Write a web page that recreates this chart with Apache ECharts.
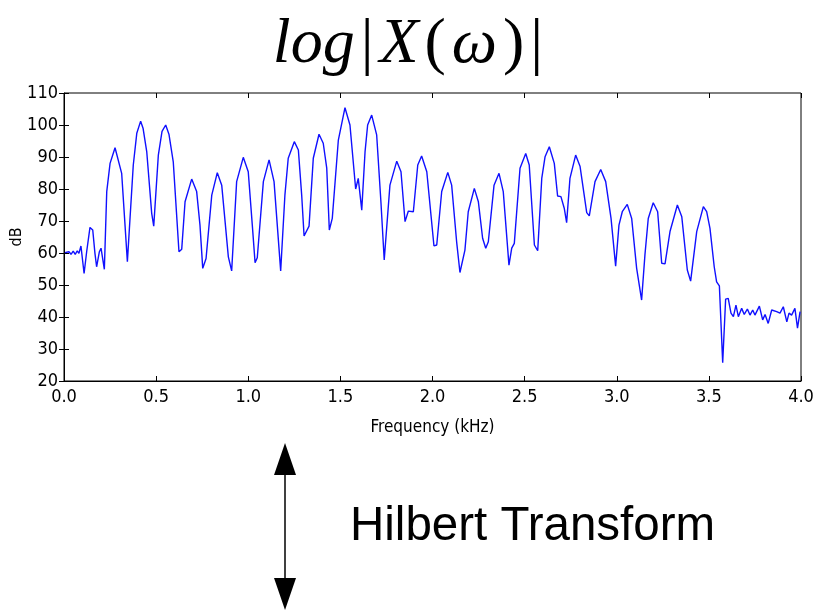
<!DOCTYPE html>
<html>
<head>
<meta charset="utf-8">
<script src="https://cdn.jsdelivr.net/npm/echarts@6/dist/echarts.min.js"></script>
<style>
  html, body { margin: 0; padding: 0; background: #fff; }
  #chart { width: 816px; height: 611px; }
</style>
</head>
<body>
<div id="chart"></div>
<script>
// 频率 (kHz)
var freqs = [0.005, 0.015, 0.027, 0.038, 0.050, 0.061, 0.072, 0.081, 0.092, 0.109,
  0.123, 0.141, 0.156, 0.168, 0.177, 0.192, 0.201, 0.219, 0.232, 0.250,
  0.277, 0.313, 0.344, 0.376, 0.395, 0.416, 0.429, 0.449, 0.476, 0.487,
  0.512, 0.532, 0.552, 0.570, 0.593, 0.624, 0.639, 0.657, 0.693, 0.720,
  0.738, 0.753, 0.771, 0.802, 0.832, 0.856, 0.892, 0.910, 0.937, 0.973,
  1.000, 1.022, 1.037, 1.049, 1.082, 1.113, 1.140, 1.176, 1.199, 1.217,
  1.250, 1.272, 1.290, 1.303, 1.330, 1.353, 1.384, 1.407, 1.426, 1.440,
  1.456, 1.489, 1.525, 1.552, 1.583, 1.597, 1.616, 1.634, 1.648, 1.670,
  1.697, 1.720, 1.738, 1.769, 1.806, 1.829, 1.851, 1.869, 1.896, 1.920,
  1.941, 1.969, 2.008, 2.023, 2.050, 2.083, 2.104, 2.131, 2.149, 2.176,
  2.194, 2.227, 2.249, 2.272, 2.289, 2.303, 2.334, 2.361, 2.384, 2.415,
  2.430, 2.444, 2.475, 2.506, 2.525, 2.553, 2.571, 2.593, 2.611, 2.634,
  2.661, 2.679, 2.697, 2.715, 2.728, 2.746, 2.777, 2.801, 2.837, 2.851,
  2.882, 2.913, 2.940, 2.969, 2.994, 3.012, 3.030, 3.057, 3.081, 3.108,
  3.135, 3.153, 3.171, 3.198, 3.222, 3.244, 3.262, 3.289, 3.329, 3.353,
  3.383, 3.401, 3.434, 3.470, 3.488, 3.506, 3.529, 3.542, 3.557, 3.575,
  3.591, 3.605, 3.620, 3.633, 3.647, 3.660, 3.678, 3.692, 3.709, 3.723,
  3.738, 3.750, 3.774, 3.792, 3.805, 3.822, 3.841, 3.868, 3.886, 3.904,
  3.923, 3.935, 3.949, 3.967, 3.981, 3.995];
// 幅度 (dB)
var dbs = [60.1, 59.7, 60.4, 59.6, 60.6, 59.6, 60.7, 59.9, 62.2, 53.6,
  60.4, 68.0, 67.2, 59.9, 55.7, 60.4, 61.5, 54.9, 79.2, 88.0,
  92.9, 84.9, 57.3, 87.5, 97.4, 101.2, 99.0, 91.7, 72.4, 68.4,
  90.6, 98.0, 100.0, 97.0, 88.5, 60.4, 61.2, 76.0, 83.1, 79.2,
  68.7, 55.2, 58.3, 78.1, 85.1, 81.2, 58.8, 54.4, 82.3, 89.9,
  85.4, 68.7, 57.0, 58.5, 82.3, 89.1, 82.3, 54.4, 78.1, 89.6,
  94.8, 92.2, 78.1, 65.3, 68.4, 89.6, 97.1, 94.3, 86.5, 67.2,
  70.8, 95.3, 105.4, 100.0, 80.0, 83.3, 73.4, 91.7, 100.0, 103.1,
  96.9, 76.0, 57.8, 81.2, 88.7, 85.4, 69.8, 73.1, 72.9, 87.5,
  90.3, 85.4, 62.2, 62.5, 79.2, 85.2, 81.2, 63.5, 53.9, 60.9,
  72.9, 80.2, 76.0, 64.6, 61.5, 63.5, 81.2, 84.9, 79.2, 56.2,
  61.5, 63.0, 86.5, 91.1, 87.5, 62.5, 60.7, 83.3, 90.1, 93.2,
  88.0, 77.8, 77.6, 74.0, 69.5, 83.3, 90.6, 87.0, 72.6, 71.6,
  82.3, 86.1, 82.3, 70.8, 55.9, 68.7, 72.9, 75.2, 70.8, 55.2,
  45.3, 59.4, 70.8, 75.7, 72.9, 56.8, 56.6, 66.7, 75.0, 71.3,
  54.7, 51.2, 66.7, 74.5, 72.9, 67.7, 55.7, 51.0, 49.7, 25.7,
  45.6, 45.8, 41.2, 40.1, 43.7, 40.1, 42.7, 40.8, 42.5, 40.6,
  42.2, 40.6, 43.4, 39.1, 40.8, 38.0, 42.2, 41.7, 41.2, 43.2,
  38.5, 41.2, 40.6, 42.7, 36.5, 41.7];

var seriesData = [];
for (let i = 0; i < freqs.length; i++) {
  seriesData.push([freqs[i], dbs[i]]);
}

var narrow = "'Liberation Sans Narrow', 'DejaVu Sans Condensed', sans-serif";
var serif = "'Liberation Serif', 'DejaVu Serif', serif";

var myChart = echarts.init(document.getElementById('chart'));
var option = {
  animation: false,
  title: {
    text: '{i|log}{n||}{i|X}{n|(}{i|ω}{n|)}{n||}',
    left: 'center',
    top: 8,
    textStyle: {
      rich: {
        i: { fontFamily: serif, fontStyle: 'italic', fontWeight: 'normal', fontSize: 64, color: '#000', padding: [0, 3] },
        n: { fontFamily: serif, fontWeight: 'normal', fontSize: 64, color: '#000', padding: [0, 3] }
      }
    }
  },
  grid: { left: 64, right: 15, top: 93, bottom: 230, show: true, borderColor: '#000', borderWidth: 1,
    outerBoundsMode: 'none' },
  xAxis: [{
    type: 'value',
    min: 0, max: 4, interval: 0.5,
    name: 'Frequency (kHz)',
    nameLocation: 'middle',
    nameGap: 38,
    nameMoveOverlap: false,
    nameTextStyle: { fontFamily: narrow, fontSize: 17, color: '#000' },
    axisLine: { show: true, lineStyle: { color: '#000' } },
    axisTick: { inside: true, length: 5, lineStyle: { color: '#000' } },
    axisLabel: { fontFamily: narrow, fontSize: 18, color: '#000', margin: 7,
      formatter: function (v) { return v.toFixed(1); } },
    splitLine: { show: false }
  }, {
    type: 'value', position: 'top',
    min: 0, max: 4, interval: 0.5,
    axisLine: { show: false },
    axisTick: { inside: true, length: 5, lineStyle: { color: '#000' } },
    axisLabel: { show: false },
    splitLine: { show: false }
  }],
  yAxis: [{
    type: 'value',
    min: 20, max: 110, interval: 10,
    name: 'dB',
    nameLocation: 'middle',
    nameRotate: 90,
    nameGap: 39,
    nameMoveOverlap: false,
    nameTextStyle: { fontFamily: narrow, fontSize: 16, color: '#000' },
    axisLine: { show: true, lineStyle: { color: '#000' } },
    axisTick: { inside: true, length: 5, lineStyle: { color: '#000' } },
    axisLabel: { fontFamily: narrow, fontSize: 18, color: '#000', margin: 6 },
    splitLine: { show: false }
  }, {
    type: 'value', position: 'right',
    min: 20, max: 110, interval: 10,
    axisLine: { show: false },
    axisTick: { inside: true, length: 5, lineStyle: { color: '#000' } },
    axisLabel: { show: false },
    splitLine: { show: false }
  }],
  series: [{
    type: 'line',
    data: seriesData,
    showSymbol: false,
    lineStyle: { color: '#1010ff', width: 1.4 },
    xAxisIndex: 0, yAxisIndex: 0
  }],
  graphic: [
    { type: 'line', shape: { x1: 285, y1: 470, x2: 285, y2: 582 }, style: { stroke: '#000', lineWidth: 1.5 } },
    { type: 'polygon', shape: { points: [[285, 443], [274, 475], [296, 475]] }, style: { fill: '#000' } },
    { type: 'polygon', shape: { points: [[285, 610], [274, 578], [296, 578]] }, style: { fill: '#000' } },
    { type: 'text', left: 350, top: 503,
      style: { text: 'Hilbert Transform', font: '47.5px "Liberation Sans", Arial, sans-serif', fill: '#000' } }
  ]
};
myChart.setOption(option);
window.addEventListener('resize', function () {
  myChart.resize();
});
</script>
</body>
</html>
